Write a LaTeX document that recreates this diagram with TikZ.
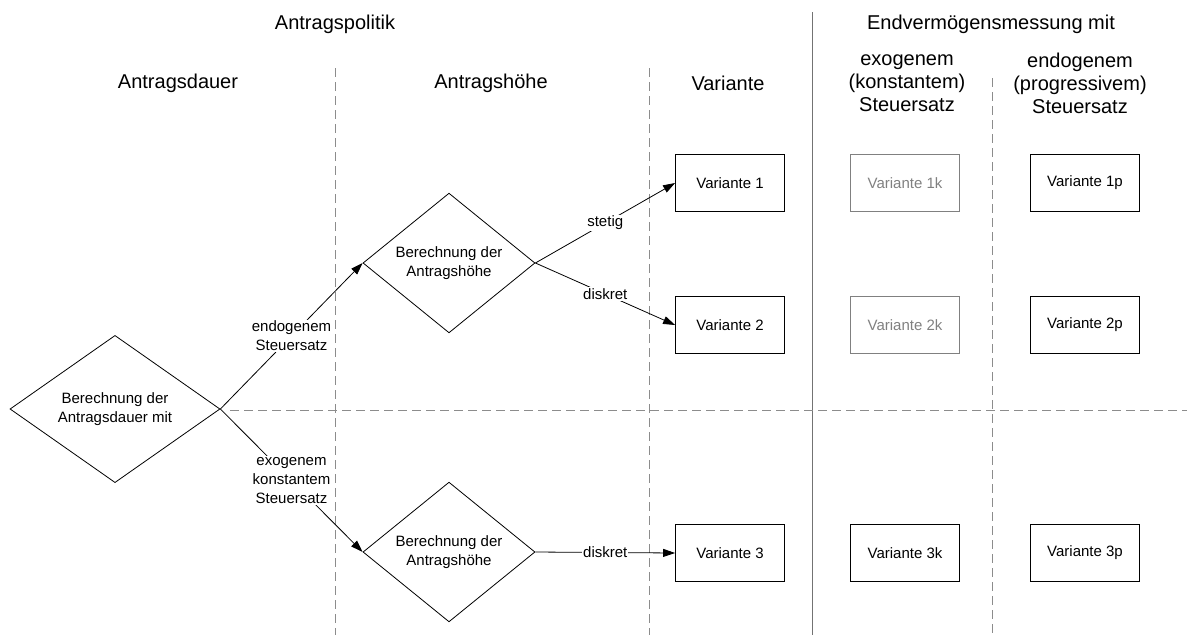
\documentclass[tikz,border=0pt]{standalone}
\usepackage{fontspec}
\setmainfont{Liberation Sans}
\usetikzlibrary{shapes.geometric,arrows.meta}

\begin{document}
\begin{tikzpicture}[x=1pt,y=-1pt,line width=0.8pt,
		head/.style={font=\fontsize{20}{23}\selectfont,align=center},
		box/.style={draw,minimum width=109pt,minimum height=57pt,inner sep=0pt,font=\fontsize{15}{19}\selectfont},
		greybox/.style={box,draw=black!50,text=black!50},
		decision/.style={draw,shape=diamond,inner sep=0pt,align=center,font=\fontsize{15}{19}\selectfont},
		flow/.style={-{Triangle[length=12pt,width=8pt]}},
		lbl/.style={fill=white,inner sep=1pt,align=center,font=\fontsize{15}{19}\selectfont},
		sep/.style={black!45,dash pattern=on 9pt off 5pt}]
		\useasboundingbox (0,0) rectangle (1187,635);
		% Spalten und Zeilen
		\draw[black!55] (812,12) -- (812,635);
		\draw[sep] (335,68) -- (335,635);
		\draw[sep] (649,68) -- (649,635);
		\draw[sep] (992,78) -- (992,635);
		\draw[sep] (230,410) -- (1187,410);
		% Ueberschriften
		\node[head] (politik) at (335,24) {Antragspolitik};
		\node[head] (messung) at (991,24) {Endvermögensmessung mit};
		\node[head] (dauer) at (178,83) {Antragsdauer};
		\node[head] (hoehe) at (491,83) {Antragshöhe};
		\node[head] (variante) at (728,83) {Variante};
		\node[head] (exo) at (907,83) {exogenem\\(konstantem)\\Steuersatz};
		\node[head] (endo) at (1080,83) {endogenem\\(progressivem)\\Steuersatz};
		% Entscheidungen
		\node[decision,minimum width=210pt,minimum height=146pt] (dauerd) at (115,409) {Berechnung der\\Antragsdauer mit};
		\node[decision,minimum width=172pt,minimum height=113pt] (hoehe1) at (449,263) {Berechnung der\\Antragshöhe};
		\node[decision,minimum width=172pt,minimum height=113pt] (hoehe2) at (449,552) {Berechnung der\\Antragshöhe};
		% Varianten
		\node[box] (v1) at (730,183) {Variante 1};
		\node[box] (v2) at (730,325) {Variante 2};
		\node[box] (v3) at (730,553) {Variante 3};
		\node[greybox] (v1k) at (905,183) {Variante 1k};
		\node[greybox] (v2k) at (905,325) {Variante 2k};
		\node[box] (v3k) at (905,553) {Variante 3k};
		\node[box] (v1p) at (1085,183) {Variante 1p};
		\node[box] (v2p) at (1085,325) {Variante 2p};
		\node[box] (v3p) at (1085,553) {Variante 3p};
		% Pfeile
		\draw[flow] (dauerd.east) -- node[lbl] {endogenem\\Steuersatz} (hoehe1.west);
		\draw[flow] (dauerd.east) -- node[lbl] {exogenem\\konstantem\\Steuersatz} (hoehe2.west);
		\draw[flow] (hoehe1.east) -- node[lbl] {stetig} (v1.west);
		\draw[flow] (hoehe1.east) -- node[lbl] {diskret} (v2.west);
		\draw[flow] (hoehe2.east) -- node[lbl] {diskret} (v3.west);
	\end{tikzpicture}
\end{document}
